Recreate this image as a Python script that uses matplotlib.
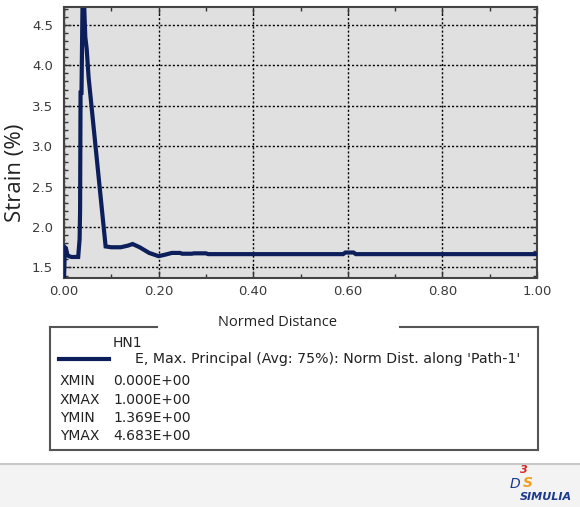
import numpy as np
import matplotlib
matplotlib.use("Agg")
import matplotlib.pyplot as plt
from matplotlib.lines import Line2D
from matplotlib.patches import Rectangle

# path data (normed distance, strain %)
dist = [0.000, 0.002, 0.004, 0.007, 0.010, 0.016, 0.030, 0.033, 0.034, 0.035,
        0.037, 0.039, 0.043, 0.045, 0.048, 0.052, 0.088, 0.100, 0.120, 0.135,
        0.145, 0.160, 0.180, 0.200, 0.215, 0.228, 0.245, 0.250, 0.270, 0.275,
        0.300, 0.305, 0.590, 0.595, 0.612, 0.617, 1.000]
strain = [1.369, 1.75, 1.74, 1.66, 1.64, 1.63, 1.63, 1.85, 2.20, 3.66,
          3.66, 4.683, 4.683, 4.35, 4.20, 3.85, 1.76, 1.75, 1.75, 1.77,
          1.79, 1.75, 1.68, 1.64, 1.66, 1.68, 1.68, 1.67, 1.67, 1.675,
          1.675, 1.665, 1.665, 1.685, 1.685, 1.665, 1.665]

xticks = [0.0, 0.2, 0.4, 0.6, 0.8, 1.0]
yticks = [1.5, 2.0, 2.5, 3.0, 3.5, 4.0, 4.5]

legend_rows = [("XMIN", "0.000E+00"), ("XMAX", "1.000E+00"),
               ("YMIN", "1.369E+00"), ("YMAX", "4.683E+00")]

W, H = 580, 507
fig = plt.figure(figsize=(W / 100, H / 100), dpi=100)

def fx(px):
    return px / W

def fy(py):
    return 1 - py / H

# bottom strip
fig.add_artist(Rectangle((0, 0), 1, fy(464), transform=fig.transFigure,
                         facecolor="#f3f3f3", edgecolor="none", zorder=0))
fig.add_artist(Line2D([0, 1], [fy(464), fy(464)], transform=fig.transFigure,
                      color="#c8c8c8", lw=1.5))

ax = fig.add_axes([fx(64), fy(278), fx(537) - fx(64), fy(7) - fy(278)])
ax.set_facecolor("#e0e0e0")
ax.plot(dist, strain, color="#0c1f5a", lw=3, solid_joinstyle="miter", zorder=3)

ax.set_xlim(0, 1.0)
ax.set_ylim(1.37, 4.72)
ax.set_xticks(xticks)
ax.set_yticks(yticks)
ax.set_xticklabels([f"{v:.2f}" for v in xticks])
ax.set_yticklabels([f"{v:.1f}" for v in yticks])
ax.set_xticks(np.arange(0.1, 1.0, 0.2), minor=True)
ax.set_yticks(np.arange(1.4, 4.75, 0.1), minor=True)
ax.tick_params(which="both", direction="in", top=True, right=True,
               color="#333333", labelsize=9.5, labelcolor="#3a3a3a")
ax.tick_params(axis="x", pad=5)
ax.tick_params(axis="y", pad=8)
ax.tick_params(which="major", length=5, width=1)
ax.tick_params(which="minor", length=3, width=1)
ax.grid(True, which="major", color="black", ls=(0, (1.5, 1.5)), lw=1)
for s in ax.spines.values():
    s.set_color("#444444")
    s.set_linewidth(1.5)

fig.text(fx(16), fy(173), "Strain (%)", rotation=90, ha="center", va="center",
         fontsize=16, family="Open Sans", color="#222222")

# legend box with the x label in its top border
box_l, box_r, box_t, box_b = 50, 538, 327, 450
gap_l, gap_r = 157, 400
ec = "#555555"
for xs, ys in [((box_l, box_l), (box_t, box_b)),
               ((box_r, box_r), (box_t, box_b)),
               ((box_l, box_r), (box_b, box_b)),
               ((box_l, gap_l), (box_t, box_t)),
               ((gap_r, box_r), (box_t, box_t))]:
    fig.add_artist(Line2D([fx(v) for v in xs], [fy(v) for v in ys],
                          transform=fig.transFigure, color=ec, lw=1.5))

fig.text(fx(278), fy(322), "Normed Distance", ha="center", va="center",
         fontsize=10.5, family="Open Sans", color="#222222")
fig.text(fx(113), fy(343), "HN1", ha="left", va="center", fontsize=10,
         color="#222222")
fig.add_artist(Line2D([fx(59), fx(109)], [fy(359), fy(359)],
                      transform=fig.transFigure, color="#0c1f5a", lw=3))
fig.text(fx(135), fy(359),
         "E, Max. Principal (Avg: 75%): Norm Dist. along 'Path-1'",
         ha="left", va="center", fontsize=10.2, color="#222222")
for i, (lab, val) in enumerate(legend_rows):
    y = 381 + i * 18.5
    fig.text(fx(60), fy(y), lab, ha="left", va="center", fontsize=10,
             color="#222222")
    fig.text(fx(113), fy(y), val, ha="left", va="center", fontsize=10,
             color="#222222")

# SIMULIA logo
fig.text(fx(524), fy(470), "3", ha="center", va="center", fontsize=8,
         style="italic", weight="bold", color="#d42a2a")
fig.text(fx(515), fy(484), "D", ha="center", va="center", fontsize=10,
         style="italic", color="#1c3a8c")
fig.text(fx(528), fy(483), "S", ha="center", va="center", fontsize=10,
         style="italic", weight="bold", color="#f0a020")
fig.text(fx(546), fy(497), "SIMULIA", ha="center", va="center", fontsize=8,
         style="italic", weight="bold", color="#1c3a8c")

fig.savefig("out.png", dpi=100)
